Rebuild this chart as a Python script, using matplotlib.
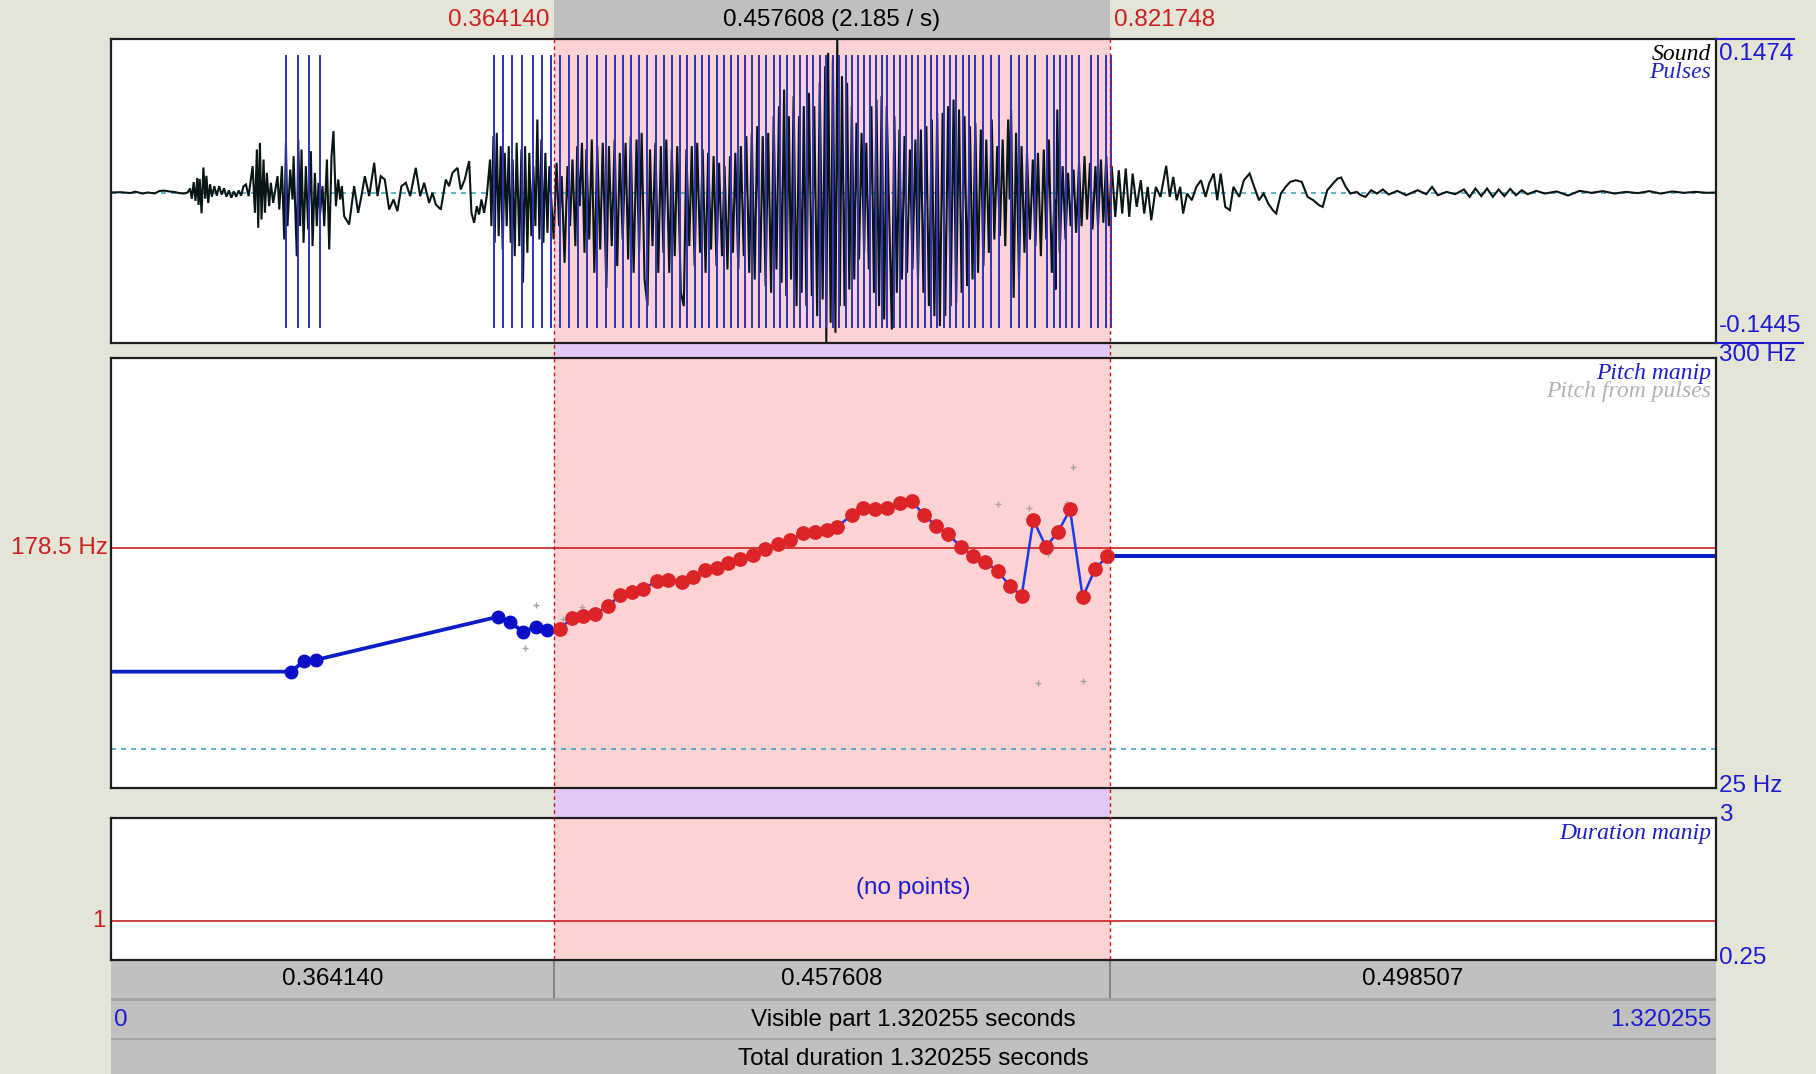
import matplotlib
matplotlib.use("Agg")
import matplotlib.pyplot as plt
import numpy as np
from matplotlib.patches import Rectangle
from matplotlib.transforms import blended_transform_factory, offset_copy

# ---------------- data ----------------
TOTAL_DURATION = 1.320255
SEL_START = 0.364140
SEL_END = 0.821748
WAVE_MIN, WAVE_MAX = -0.1445, 0.1474
PITCH_MIN, PITCH_MAX = 25, 300
PITCH_REF = 178.5
PITCH_DOTTED = 50
DUR_MIN, DUR_MAX = 0.25, 3
DUR_REF = 1

# waveform extremes: (time ms, amplitude in thousandths)
wave_silence = [(0, 0), (8, 0.3), (16, -0.5), (20, 0.8), (26, -1.0), (30, 0), (36, -0.8), (40, 1.5),
                (44, 1.8), (48, 1.0), (52, 0.5), (56, -0.5), (60, -1.0), (63, 0)]
wave_burst = [(65, 4), (66.5, -6), (68, 10), (69.5, -8), (71, 14), (72, -12), (73, 13), (74.5, -20),
              (76, 24), (77.5, -6), (78.5, 16), (80, -10), (81.5, 8), (83, -4), (85, 6),
              (87, -3), (89, 6), (91, -2), (93, 4), (95, -4), (97, 2), (99, -5), (101, 1),
              (103, -4), (105, 2), (107, -3), (109, 6)]
wave_fric1 = [(111.0, 7.7), (113.2, -3.5), (116.5, 25.3), (118.4, -19.5), (120.0, 41.3), (121.1, -33.9),
              (122.5, 47.7), (123.8, -25.9), (125.5, 31.7), (126.6, -19.5), (128.2, 18.9), (130.1, -13.1),
              (131.5, 9.3), (133.4, -9.9), (137.0, 15.7), (138.4, -16.3), (140.6, 25.3), (142.5, -45.1),
              (143.9, 47.7), (145.2, -32.3), (147.4, 22.1), (149.3, -6.7), (150.2, 34.9), (152.1, -35.5),
              (152.9, -61.1), (154.0, 50.9), (155.6, -32.3), (156.7, 41.3), (158.4, -48.3), (160.3, 25.3),
              (162.2, -35.5), (164.4, 39.7), (165.8, -51.5), (167.7, 18.9), (169.3, -32.3), (170.7, 9.3),
              (172.1, -19.5), (174.0, 6.1), (175.4, -32.3), (177.6, 31.7), (179.5, -54.7), (181.4, 34.9),
              (183.0, 58.9), (185.0, -13.1), (186.9, 12.5), (188.5, -6.7), (189.9, 6.1), (191.8, -22.7)]
wave_fric2 = [(195.9, -30.7), (200.0, 6.1), (203.3, -19.5), (206.0, -3.5), (208.8, 15.7), (212.4, -3.5),
              (216.5, 28.5), (219.2, -3.5), (221.9, 15.7), (225.2, 12.5), (228.8, -16.3), (232.4, -6.7),
              (235.6, -17.9), (238.9, 6.1), (242.5, 9.3), (246.1, -3.5), (250.7, 23.7), (254.3, -3.5),
              (257.6, 9.3), (261.7, -9.9), (264.4, -0.3), (267.2, -11.5), (271.3, -16.3), (275.4, 12.5),
              (278.1, 6.1), (280.9, 18.9), (285.0, 23.7), (287.7, 2.9), (291.0, 12.5), (294.6, 30.1),
              (296.5, -19.5), (298.7, -29.1), (300.9, -13.1), (302.8, -21.1), (304.7, -6.7), (306.9, -19.5),
              (309.1, -3.5)]
wave_onset = [(311.8, 31.7), (312.9, -32.3), (314.6, 54.1), (315.6, -48.3), (317.3, 57.3), (318.9, -41.9),
              (320.6, 44.5), (322.2, -54.7), (323.9, 38.1), (325.5, -32.3), (327.2, 44.5), (328.8, -48.3),
              (330.4, 31.7), (332.1, -61.1), (333.7, 47.7), (335.9, -51.5), (337.6, 41.3), (338.9, -86.7),
              (340.6, 44.5), (342.5, -57.9), (344.1, 38.1), (345.8, -41.9), (347.4, 25.3), (349.1, -32.3),
              (350.7, 70.1), (352.4, -45.1), (354.0, 50.9), (355.7, -48.3), (357.3, 38.1), (359.0, -38.7),
              (360.6, 25.3)]
wave_vowel1 = [(364.1, -45.1), (366.5, 28.5), (368.6, -32.3), (370.7, 15.7), (373.1, -67.5), (375.5, 25.3),
               (377.6, -32.3), (379.6, 31.7), (382.0, -51.5), (383.5, 44.5), (385.6, -13.1), (387.4, 47.7),
               (389.5, -57.9), (391.0, 41.3), (393.4, -45.1), (395.5, 50.9), (397.6, -77.1), (400.0, 44.5),
               (402.4, -54.7), (404.5, 47.7), (407.5, -91.5), (409.6, 44.5), (411.9, -51.5), (414.3, 50.9),
               (416.4, -70.7), (418.5, 38.1), (420.9, -45.1), (423.3, 47.7), (425.4, -64.3), (427.5, 54.1),
               (429.9, -77.1), (432.3, 50.9), (434.4, -57.9), (436.5, 57.3), (438.9, -83.5), (441.3, -109.1),
               (443.4, 41.3), (445.4, -51.5), (447.8, 47.7), (450.2, -77.1), (452.3, 44.5), (454.4, -57.9),
               (456.8, 50.9), (459.2, -77.1), (461.3, 41.3), (463.7, -61.1), (465.8, 44.5), (468.8, -96.3),
               (471.2, -109.1), (473.3, 41.3), (475.7, -51.5), (477.7, 44.5), (480.1, -70.7), (482.2, 47.7),
               (484.6, -57.9), (486.7, 41.3), (489.1, -77.1), (491.2, 38.1), (493.6, -54.7), (495.7, 34.9),
               (498.1, -70.7), (500.2, 28.5), (502.6, -61.1), (504.7, 25.3), (507.1, -73.9), (509.2, 34.9),
               (511.6, -57.9), (513.6, 38.1), (516.0, -73.9), (518.1, 44.5), (520.5, -61.1), (522.6, 54.1),
               (525.0, -77.1), (527.1, 57.3), (529.5, -83.5), (531.6, 63.7), (534.0, -77.1), (536.1, 54.1),
               (538.5, -89.9), (540.6, 57.3), (543.0, -96.3), (545.1, 73.3), (547.4, -73.9), (549.5, 82.9),
               (551.6, -86.7), (553.7, 98.9), (555.5, -99.5)]
wave_vowel2 = [(557.6, 73.3), (559.4, -83.5), (561.5, 92.5), (563.9, -109.1), (566.0, 73.3), (568.1, -96.3),
               (569.9, 82.9), (572.0, -109.1), (574.1, 95.7), (576.5, -99.5), (578.5, 82.9), (580.9, -118.7),
               (583.0, 105.3), (585.4, -102.7), (587.5, 121.3), (588.4, -144.0), (589.9, 134.1), (592.0, -125.1),
               (593.8, 127.7), (595.9, -134.7), (597.4, 147.0), (599.5, -109.1), (601.3, 111.7), (603.4, -109.1),
               (605.5, 105.3), (607.3, -93.1), (609.4, 82.9), (611.4, -83.5), (613.2, 66.9), (615.3, -64.3),
               (617.4, 57.3), (619.5, -57.9), (621.3, 47.7), (623.4, -73.9), (625.5, 82.9), (627.6, -96.3),
               (629.7, 89.3), (631.8, -109.1), (633.9, 92.5), (636.0, -121.9), (638.1, 82.9), (642.3, -131.5),
               (644.4, 73.3), (646.4, -96.3), (648.5, 60.5), (650.6, -83.5), (652.7, 54.1), (654.8, -77.1),
               (657.2, 41.3), (659.3, -73.9), (661.7, 50.9), (663.8, -83.5), (666.2, 60.5), (668.3, -96.3),
               (670.7, 63.7), (672.8, -109.1), (675.2, 70.1), (677.3, -118.7), (679.6, 76.5), (681.8, -128.3),
               (684.1, 76.5), (686.2, -118.7), (688.6, 82.9), (690.7, -109.1), (693.1, 89.3), (695.2, -105.9),
               (697.6, 79.7), (699.7, -96.3), (702.1, 73.3), (704.2, -89.9), (706.6, 63.7), (708.7, -83.5)]
wave_vowel3 = [(711.0, 66.9), (713.2, -77.1), (715.5, 60.5), (717.6, -70.7), (720.0, 50.9), (722.1, -57.9),
               (724.5, 70.1), (726.6, -45.1), (729.0, 44.5), (731.1, -41.9), (733.5, 50.9), (735.6, -51.5),
               (738.0, 70.1), (739.2, -6.7), (740.4, 79.7), (742.5, -101.1), (744.5, 57.3), (746.9, -83.5),
               (749.0, 44.5), (751.4, -57.9), (753.5, 38.1), (755.9, -45.1), (758.3, 31.7), (760.4, -51.5),
               (762.5, 38.1), (764.9, -61.1), (767.3, 41.3), (769.4, -45.1), (771.5, 50.9), (773.9, -77.1),
               (776.0, -6.7), (776.9, -93.1), (778.4, 79.7), (780.4, -57.9), (782.8, 25.3), (785.2, -45.1),
               (787.3, 18.9), (789.4, -32.3), (791.8, 22.1), (793.9, -38.7), (796.3, 28.5), (798.4, -32.3),
               (800.8, 34.9), (802.9, -25.9), (805.3, 28.5), (807.4, -35.5), (809.8, 25.3), (811.9, -32.3),
               (814.3, 31.7), (816.3, -29.1), (818.7, 34.9), (820.8, -32.3), (823.2, 25.3)]
wave_decay = [(826.1, -23.4), (829.0, 21.4), (831.8, -20.2), (834.7, 23.0), (837.6, -23.4), (840.4, 18.2),
              (843.7, -13.8), (847.1, 11.8), (849.9, -20.2), (852.8, 5.4), (855.7, -26.6), (859.5, 5.4),
              (863.3, -4.2), (868.0, 25.6), (870.9, -4.2), (873.8, 15.0), (876.6, -7.4), (879.5, 5.4),
              (881.9, -20.2), (885.2, -1.0), (889.0, -7.4), (892.8, 5.4), (896.6, 11.8), (900.4, -4.2),
              (903.3, 8.6), (907.1, 18.2), (910.0, -7.4), (912.8, 18.2), (916.6, -13.8), (920.4, -17.0),
              (923.3, 5.4), (928.1, -4.2), (931.9, 11.8), (936.6, 18.2), (940.4, 5.4), (944.3, -7.4),
              (948.1, -1.0), (951.9, -10.6), (955.7, -17.0), (958.5, -20.2), (962.3, -1.0), (966.2, 5.4),
              (970.0, 10.2), (974.7, 11.8), (979.5, 10.2), (984.3, -4.2), (989.0, -7.4), (993.8, -12.2),
              (996.7, -13.8), (1000.5, 2.2), (1005.2, 8.6), (1009.0, 13.4), (1011.9, 14.4), (1015.7, 5.4),
              (1019.5, -1.0), (1024.7, 0.6), (1028.1, -2.6), (1031.9, -4.2), (1036.7, 2.2), (1041.4, -1.0)]
wave_tail = [(1046.2, 2.9), (1051.0, -1.9), (1058.1, 1.6), (1065.3, -2.6), (1074.8, 2.2), (1081.9, -1.6),
             (1086.7, 5.4), (1091.4, -2.6), (1098.6, 0.6), (1105.7, -1.6), (1112.9, 2.9), (1117.6, -4.2),
             (1122.4, 3.8), (1127.2, -3.5), (1131.9, 3.8), (1136.7, -4.2), (1141.4, 2.9), (1146.2, -3.5),
             (1151.0, 3.5), (1155.7, -2.6), (1160.5, 2.2), (1165.3, -1.6), (1172.4, 1.6), (1179.6, -1.0),
             (1189.1, 1.0), (1198.6, -2.9), (1208.1, 1.6), (1217.6, -0.3), (1227.2, 1.3), (1236.7, -1.0),
             (1246.2, 0.6), (1255.8, -0.6), (1265.3, 1.3), (1274.8, -1.0), (1284.3, 1.0), (1293.9, -0.3),
             (1303.4, 0.6), (1312.9, -0.3), (1320.255, 0)]

# glottal pulses (ms)
pulses_ms = [143.7, 153.8, 162.9, 171.9,
             314.8, 322.5, 330.1, 337.8, 347.1, 354.8, 361.9,
             369.5, 377.0, 384.5, 391.9, 399.4, 406.9, 414.4, 420.9, 427.5, 434.4, 441.3, 447.9, 454.7,
             461.3, 467.9, 474.2, 480.2, 486.2, 492.1, 498.1, 504.1, 510.1, 516.1, 521.7, 527.4, 533.1,
             539.1, 545.1, 550.5, 556.1, 561.5, 566.9, 572.3, 577.7, 583.1, 588.5, 593.8, 599.2, 604.3,
             609.4, 614.5, 619.3, 624.3, 629.1, 633.9, 638.7, 643.8, 648.9, 653.7, 658.5, 663.8, 669.2,
             674.3, 679.7, 685.4, 690.2, 695.2, 700.6, 705.7, 711.1, 717.1, 723.6, 730.2, 740.4, 747.0,
             753.6, 760.4, 770.3, 775.4, 780.8, 785.9, 790.9, 796.3, 805.9, 811.9, 818.8, 822.5]

# pitch manipulation points: (time s, Hz)
pitch_points = [(0.1483, 99.4), (0.1588, 106.4), (0.1683, 106.9),
                (0.3183, 134.5), (0.3279, 131.4), (0.3388, 125.0), (0.3493, 127.8), (0.3588, 126.0),
                (0.3693, 126.5), (0.3790, 133.9), (0.3885, 135.2), (0.3981, 136.3), (0.4091, 141.4),
                (0.4187, 148.4), (0.4283, 150.3), (0.4379, 152.1), (0.4489, 157.6), (0.4584, 158.0),
                (0.4694, 156.9), (0.4790, 159.7), (0.4886, 164.4), (0.4982, 165.9), (0.5078, 168.7),
                (0.5174, 171.3), (0.5284, 174.0), (0.5380, 177.7), (0.5490, 181.0), (0.5586, 183.6),
                (0.5695, 187.9), (0.5791, 188.9), (0.5887, 190.0), (0.5976, 192.2), (0.6093, 199.6),
                (0.6188, 203.9), (0.6284, 203.2), (0.6386, 204.3), (0.6489, 207.5), (0.6587, 208.5),
                (0.6688, 199.6), (0.6787, 192.6), (0.6887, 187.4), (0.6989, 179.3), (0.7093, 173.4),
                (0.7189, 169.7), (0.7293, 163.8), (0.7394, 154.2), (0.7491, 148.0), (0.7587, 196.4),
                (0.7691, 179.3), (0.7792, 188.9), (0.7889, 203.2), (0.7993, 147.0), (0.8094, 164.9),
                (0.8196, 173.4)]

# pitch from pulses (visible outliers): (time s, Hz)
pulse_pitch_points = [(0.3407, 114.3), (0.3493, 142.0), (0.3716, 133.1), (0.3871, 141.0),
                      (0.7299, 206.4), (0.7551, 204.3), (0.7628, 92.0), (0.7710, 174.6),
                      (0.7867, 207.1), (0.7916, 230.1), (0.7993, 93.6)]

# ---------------- layout / style ----------------
W, H = 1816, 1074
L, R = 111, 1716
WAVE_TOP, WAVE_BOT = 39, 343
PITCH_TOP, PITCH_BOT = 358, 788
DUR_TOP, DUR_BOT = 818, 960

BG = "#e4e4d7"
PINK = "#fdd2d2"
PURPLE = "#e2c9f5"
BARGRAY = "#c0c0c0"
RED = "#cc2020"
BLUE = "#1c1cd0"
SANS = ["Liberation Sans", "DejaVu Sans"]
SERIF = ["Liberation Serif", "DejaVu Serif"]
FS = 17.5

fig = plt.figure(figsize=(W / 100, H / 100), dpi=100)
fig.patch.set_facecolor(BG)

bg = fig.add_axes([0, 0, 1, 1])
bg.set_xlim(0, W)
bg.set_ylim(H, 0)
bg.axis("off")
bg.set_zorder(0)


def rect(top, bot):
    return [L / W, 1 - bot / H, (R - L) / W, (bot - top) / H]


def make_panel(top, bot, ylim):
    ax = fig.add_axes(rect(top, bot))
    ax.set_zorder(1)
    ax.set_facecolor("white")
    ax.set_xlim(0, TOTAL_DURATION)
    ax.set_ylim(*ylim)
    ax.set_xticks([])
    ax.set_yticks([])
    for s in ax.spines.values():
        s.set_color("#1e1e1e")
        s.set_linewidth(1.6)
    ax.axvspan(SEL_START, SEL_END, color=PINK, lw=0, zorder=0.5)
    return ax


ax_w = make_panel(WAVE_TOP, WAVE_BOT, (WAVE_MIN, WAVE_MAX))
ax_p = make_panel(PITCH_TOP, PITCH_BOT, (PITCH_MIN, PITCH_MAX))
ax_d = make_panel(DUR_TOP, DUR_BOT, (DUR_MIN, DUR_MAX))

ov = fig.add_axes([0, 0, 1, 1])
ov.set_xlim(0, W)
ov.set_ylim(H, 0)
ov.axis("off")
ov.set_zorder(5)
ov.patch.set_alpha(0)

blend_bg = blended_transform_factory(ax_w.transData, bg.transData)
blend_ov = blended_transform_factory(ax_w.transData, ov.transData)

# ---- top selection box
bg.add_patch(Rectangle((SEL_START, 0), SEL_END - SEL_START, 37.5, transform=blend_bg,
                       facecolor=BARGRAY, edgecolor="none"))
# ---- purple strips between panels
bg.add_patch(Rectangle((SEL_START, WAVE_BOT), SEL_END - SEL_START, PITCH_TOP - WAVE_BOT,
                       transform=blend_bg, facecolor=PURPLE, edgecolor="none"))
bg.add_patch(Rectangle((SEL_START, PITCH_BOT), SEL_END - SEL_START, DUR_TOP - PITCH_BOT,
                       transform=blend_bg, facecolor=PURPLE, edgecolor="none"))

# ---- bottom bars
bg.add_patch(Rectangle((L, DUR_BOT), R - L, H - DUR_BOT, facecolor="#a4a4a4", edgecolor="none"))
bg.add_patch(Rectangle((L, 960), R - L, 38, facecolor=BARGRAY, edgecolor="none"))
bg.add_patch(Rectangle((L, 1000.5), R - L, 37, facecolor=BARGRAY, edgecolor="none"))
bg.add_patch(Rectangle((L, 1040), R - L, 40, facecolor=BARGRAY, edgecolor="none"))
bg.vlines([SEL_START, SEL_END], 960, 998, transform=blend_bg, color="#7a7a7a", lw=1.2)

# ---- waveform
wave = (wave_silence + wave_burst + wave_fric1 + wave_fric2 + wave_onset + wave_vowel1 +
        wave_vowel2 + wave_vowel3 + wave_decay + wave_tail)
wt = np.array([p[0] for p in wave]) / 1000.0
wv = np.array([p[1] for p in wave]) / 1000.0
ax_w.axhline(0, color="#3ea8c8", lw=1.2, ls=(0, (3, 3)), zorder=1)
ax_w.plot(wt, wv, color="#081616", lw=1.5, zorder=2, solid_joinstyle="miter")
ax_w.vlines(np.array(pulses_ms) / 1000.0, 0.05, 0.947, transform=ax_w.get_xaxis_transform(),
            color="#2e32bc", lw=1.4, zorder=3)

# ---- pitch
pt = np.array([p[0] for p in pitch_points])
ph = np.array([p[1] for p in pitch_points])
ax_p.axhline(PITCH_REF, color=RED, lw=1.2, zorder=1)
ax_p.axhline(PITCH_DOTTED, color="#3ea8c8", lw=1.2, ls=(0, (3, 3)), zorder=1)
line_t = np.r_[0, pt, TOTAL_DURATION]
line_h = np.r_[ph[0], ph, ph[-1]]
ax_p.plot(line_t, line_h, color="#1c3ae6", lw=1.8, zorder=2)
left = line_t <= SEL_START
ax_p.plot(line_t[left], line_h[left], color="#0a1ec8", lw=2.7, zorder=2.2)
right = line_t >= pt[-1]
ax_p.plot(line_t[right], line_h[right], color="#0a1ec8", lw=2.9, zorder=2.2)
ppt = [p[0] for p in pulse_pitch_points]
pph = [p[1] for p in pulse_pitch_points]
ax_p.plot(ppt, pph, "+", color="#a4a4a4", ms=5, mew=1.0, zorder=2.5)
inside = (pt >= SEL_START) & (pt <= SEL_END)
ax_p.plot(pt[~inside], ph[~inside], "o", color="#0a10c8", ms=9.0, mec="#0a10c8", zorder=3)
ax_p.plot(pt[inside], ph[inside], "o", color="#dc2428", ms=9.6, mec="#dc2428", zorder=3)

# ---- duration
ax_d.axhline(DUR_REF, color=RED, lw=1.2, zorder=1)
ax_d.text(0.5, 0.51, "(no points)", transform=ax_d.transAxes, ha="center", va="center",
          color=BLUE, fontsize=FS, family=SANS)

# ---- selection dashed lines
ov.vlines([SEL_START, SEL_END], WAVE_TOP, DUR_BOT, transform=blend_ov, colors="#d01010",
          linestyles=(0, (2.5, 2.5)), lw=1.0)

# ---- top texts
sel_len = SEL_END - SEL_START
ov.text(SEL_START, 20, f"{SEL_START:.6f}", transform=offset_copy(blend_ov, fig, x=-4, units="dots"),
        ha="right", va="center", color=RED, fontsize=FS, family=SANS)
ov.text((SEL_START + SEL_END) / 2, 20, f"{sel_len:.6f} ({1 / sel_len:.3f} / s)", transform=blend_ov,
        ha="center", va="center", color="black", fontsize=FS, family=SANS)
ov.text(SEL_END, 20, f"{SEL_END:.6f}", transform=offset_copy(blend_ov, fig, x=4, units="dots"),
        ha="left", va="center", color=RED, fontsize=FS, family=SANS)

# ---- bottom bar texts
ov.text(SEL_START / 2, 979, f"{SEL_START:.6f}", transform=blend_ov, ha="center", va="center",
        fontsize=FS, family=SANS)
ov.text((SEL_START + SEL_END) / 2, 979, f"{sel_len:.6f}", transform=blend_ov, ha="center",
        va="center", fontsize=FS, family=SANS)
ov.text((SEL_END + TOTAL_DURATION) / 2, 979, f"{TOTAL_DURATION - SEL_END:.6f}", transform=blend_ov,
        ha="center", va="center", fontsize=FS, family=SANS)
ov.text(L + 3, 1020, "0", ha="left", va="center", color=BLUE, fontsize=FS, family=SANS)
ov.text((L + R) / 2, 1020, f"Visible part {TOTAL_DURATION:.6f} seconds", ha="center", va="center",
        fontsize=FS, family=SANS)
ov.text(R - 4, 1020, f"{TOTAL_DURATION:.6f}", ha="right", va="center", color=BLUE, fontsize=FS,
        family=SANS)
ov.text((L + R) / 2, 1059, f"Total duration {TOTAL_DURATION:.6f} seconds", ha="center", va="center",
        fontsize=FS, family=SANS)

# ---- right-side scale labels
ov.plot([R, 1794], [WAVE_TOP, WAVE_TOP], color=BLUE, lw=1.5)
ov.plot([R, 1803], [WAVE_BOT, WAVE_BOT], color=BLUE, lw=1.5)
ov.text(R + 3, 54, f"{WAVE_MAX:.4f}", ha="left", va="center", color=BLUE, fontsize=FS, family=SANS)
ov.text(R + 3, 326, f"{WAVE_MIN:.4f}", ha="left", va="center", color=BLUE, fontsize=FS, family=SANS)
ov.text(R + 3, 355, f"{PITCH_MAX:g} Hz", ha="left", va="center", color=BLUE, fontsize=FS, family=SANS)
ov.text(R + 3, 786, f"{PITCH_MIN:g} Hz", ha="left", va="center", color=BLUE, fontsize=FS, family=SANS)
ov.text(R + 3, 815, f"{DUR_MAX:g}", ha="left", va="center", color=BLUE, fontsize=FS, family=SANS)
ov.text(R + 3, 958, f"{DUR_MIN:g}", ha="left", va="center", color=BLUE, fontsize=FS, family=SANS)

# ---- left reference labels
ov.text(108, PITCH_REF, f"{PITCH_REF:g} Hz", transform=blended_transform_factory(ov.transData, ax_p.transData),
        ha="right", va="center", color=RED, fontsize=FS, family=SANS)
ov.text(106, DUR_REF, f"{DUR_REF:g}", transform=blended_transform_factory(ov.transData, ax_d.transData),
        ha="right", va="center", color=RED, fontsize=FS, family=SANS)

# ---- panel titles
SFS = 17
ov.text(1711, 54, "Sound", ha="right", va="center", color="black", fontsize=SFS, family=SERIF, style="italic")
ov.text(1711, 73, "Pulses", ha="right", va="center", color="#2424c0", fontsize=SFS, family=SERIF, style="italic")
ov.text(1711, 373, "Pitch manip", ha="right", va="center", color="#1c1cc8", fontsize=SFS, family=SERIF, style="italic")
ov.text(1711, 391, "Pitch from pulses", ha="right", va="center", color="#b2b2b2", fontsize=SFS, family=SERIF,
        style="italic")
ov.text(1711, 834, "Duration manip", ha="right", va="center", color="#1c1cc8", fontsize=SFS, family=SERIF,
        style="italic")

fig.savefig("out.png", dpi=100, facecolor=BG)
